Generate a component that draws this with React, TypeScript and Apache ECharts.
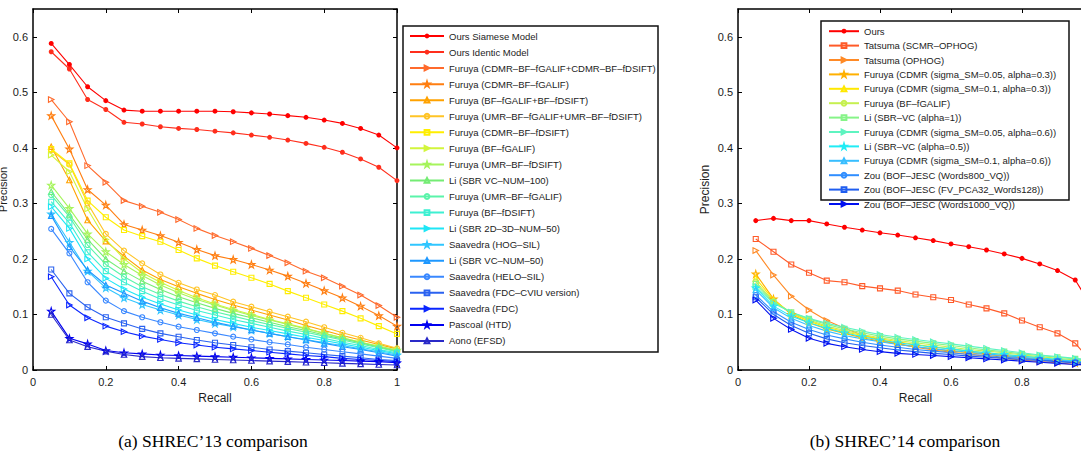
import React, { useEffect, useRef } from "react";
import * as echarts from "echarts";

// Recall sample points shared by every precision–recall curve
const recall = [0.05, 0.1, 0.15, 0.2, 0.25, 0.3, 0.35, 0.4, 0.45, 0.5, 0.55, 0.6, 0.65, 0.7, 0.75, 0.8, 0.85, 0.9, 0.95, 1.0];

const xTicks = { min: 0, max: 1, interval: 0.2 };
const yTicks = { min: 0, max: 0.65, interval: 0.1 };

// ---- SHREC'13 precision values ----
const s13OursSiamese = [0.588, 0.550, 0.510, 0.485, 0.468, 0.466, 0.466, 0.466, 0.466, 0.466, 0.465, 0.463, 0.461, 0.458, 0.455, 0.450, 0.444, 0.435, 0.423, 0.400];
const s13OursIdentic = [0.573, 0.542, 0.487, 0.469, 0.446, 0.443, 0.438, 0.435, 0.433, 0.430, 0.427, 0.423, 0.419, 0.414, 0.408, 0.401, 0.392, 0.380, 0.365, 0.341];
const s13FuruyaCdmrBoth = [0.487, 0.447, 0.368, 0.338, 0.305, 0.295, 0.284, 0.271, 0.255, 0.242, 0.231, 0.219, 0.206, 0.193, 0.178, 0.166, 0.151, 0.135, 0.116, 0.095];
const s13FuruyaCdmrGalif = [0.458, 0.398, 0.325, 0.297, 0.262, 0.252, 0.242, 0.230, 0.217, 0.206, 0.199, 0.190, 0.180, 0.169, 0.156, 0.143, 0.130, 0.115, 0.098, 0.079];
const s13FuruyaBfBoth = [0.402, 0.342, 0.270, 0.232, 0.205, 0.180, 0.163, 0.150, 0.138, 0.127, 0.117, 0.108, 0.099, 0.090, 0.080, 0.071, 0.062, 0.054, 0.046, 0.038];
const s13FuruyaUmrBoth = [0.396, 0.370, 0.300, 0.245, 0.215, 0.192, 0.172, 0.157, 0.145, 0.135, 0.123, 0.114, 0.105, 0.096, 0.087, 0.077, 0.067, 0.058, 0.048, 0.039];
const s13FuruyaCdmrDsift = [0.398, 0.372, 0.305, 0.275, 0.252, 0.241, 0.231, 0.216, 0.201, 0.188, 0.177, 0.166, 0.155, 0.142, 0.130, 0.118, 0.106, 0.093, 0.079, 0.065];
const s13FuruyaBfGalif = [0.387, 0.357, 0.290, 0.235, 0.200, 0.175, 0.158, 0.143, 0.130, 0.119, 0.109, 0.100, 0.091, 0.083, 0.075, 0.066, 0.058, 0.050, 0.042, 0.035];
const s13FuruyaUmrDsift = [0.333, 0.291, 0.245, 0.213, 0.190, 0.170, 0.153, 0.139, 0.127, 0.117, 0.107, 0.098, 0.090, 0.082, 0.074, 0.066, 0.058, 0.050, 0.043, 0.036];
const s13LiVc100 = [0.321, 0.280, 0.235, 0.200, 0.178, 0.160, 0.145, 0.132, 0.121, 0.111, 0.102, 0.094, 0.086, 0.078, 0.071, 0.063, 0.056, 0.049, 0.041, 0.034];
const s13FuruyaUmrGalif = [0.315, 0.276, 0.225, 0.190, 0.168, 0.150, 0.136, 0.124, 0.114, 0.105, 0.097, 0.089, 0.082, 0.075, 0.068, 0.061, 0.054, 0.047, 0.040, 0.033];
const s13FuruyaBfDsift = [0.303, 0.265, 0.212, 0.178, 0.158, 0.142, 0.128, 0.117, 0.107, 0.099, 0.091, 0.084, 0.077, 0.070, 0.064, 0.057, 0.050, 0.044, 0.037, 0.031];
const s13Li2d3d50 = [0.294, 0.255, 0.200, 0.165, 0.146, 0.131, 0.119, 0.108, 0.099, 0.091, 0.084, 0.077, 0.071, 0.065, 0.059, 0.053, 0.047, 0.041, 0.035, 0.029];
const s13SaavedraHog = [0.281, 0.230, 0.178, 0.148, 0.130, 0.118, 0.108, 0.099, 0.091, 0.084, 0.078, 0.072, 0.066, 0.060, 0.055, 0.049, 0.044, 0.038, 0.033, 0.027];
const s13LiVc50 = [0.278, 0.222, 0.180, 0.153, 0.138, 0.124, 0.112, 0.102, 0.094, 0.086, 0.079, 0.072, 0.066, 0.060, 0.054, 0.048, 0.042, 0.037, 0.031, 0.025];
const s13SaavedraHelo = [0.254, 0.210, 0.158, 0.125, 0.106, 0.095, 0.086, 0.078, 0.072, 0.066, 0.060, 0.055, 0.050, 0.046, 0.041, 0.037, 0.033, 0.029, 0.025, 0.021];
const s13SaavedraFdcCviu = [0.181, 0.138, 0.113, 0.095, 0.084, 0.074, 0.066, 0.060, 0.054, 0.049, 0.045, 0.041, 0.037, 0.034, 0.031, 0.028, 0.025, 0.022, 0.019, 0.017];
const s13SaavedraFdc = [0.168, 0.117, 0.094, 0.079, 0.069, 0.061, 0.055, 0.049, 0.045, 0.041, 0.038, 0.035, 0.032, 0.029, 0.026, 0.024, 0.021, 0.019, 0.017, 0.015];
const s13PascoalHtd = [0.106, 0.057, 0.047, 0.035, 0.031, 0.029, 0.027, 0.026, 0.025, 0.024, 0.023, 0.022, 0.021, 0.020, 0.019, 0.018, 0.017, 0.016, 0.015, 0.013];
const s13AonoEfsd = [0.100, 0.054, 0.042, 0.034, 0.028, 0.024, 0.022, 0.021, 0.020, 0.019, 0.018, 0.017, 0.016, 0.015, 0.014, 0.013, 0.012, 0.011, 0.010, 0.009];

const shrec13Names = [
  "Ours Siamese Model",
  "Ours Identic Model",
  "Furuya (CDMR–BF–fGALIF+CDMR–BF–fDSIFT)",
  "Furuya (CDMR–BF–fGALIF)",
  "Furuya (BF–fGALIF+BF–fDSIFT)",
  "Furuya (UMR–BF–fGALIF+UMR–BF–fDSIFT)",
  "Furuya (CDMR–BF–fDSIFT)",
  "Furuya (BF–fGALIF)",
  "Furuya (UMR–BF–fDSIFT)",
  "Li (SBR VC–NUM–100)",
  "Furuya (UMR–BF–fGALIF)",
  "Furuya (BF–fDSIFT)",
  "Li (SBR 2D–3D–NUM–50)",
  "Saavedra (HOG–SIL)",
  "Li (SBR VC–NUM–50)",
  "Saavedra (HELO–SIL)",
  "Saavedra (FDC–CVIU version)",
  "Saavedra (FDC)",
  "Pascoal (HTD)",
  "Aono (EFSD)",
];
const shrec13Values = [
  s13OursSiamese, s13OursIdentic, s13FuruyaCdmrBoth, s13FuruyaCdmrGalif, s13FuruyaBfBoth,
  s13FuruyaUmrBoth, s13FuruyaCdmrDsift, s13FuruyaBfGalif, s13FuruyaUmrDsift, s13LiVc100,
  s13FuruyaUmrGalif, s13FuruyaBfDsift, s13Li2d3d50, s13SaavedraHog, s13LiVc50,
  s13SaavedraHelo, s13SaavedraFdcCviu, s13SaavedraFdc, s13PascoalHtd, s13AonoEfsd,
];
const shrec13Markers = ["dot", "dot", "right", "star", "up", "circle", "square", "right", "star", "up", "circle", "square", "right", "star", "up", "circle", "square", "right", "star", "up"];
const shrec13Colors = ["#ff0000", "#ff2e1c", "#ff6a2c", "#ff7e10", "#ffa200", "#ffc426", "#ffee00", "#d2f53c", "#a6f45c", "#74ec74", "#5af4aa", "#3ef0d2", "#1ee6f6", "#30c6ff", "#1e98ff", "#3a88ff", "#2a62f0", "#0a26ff", "#0000f0", "#2a2ac8"];

// ---- SHREC'14 precision values ----
const s14Ours = [0.269, 0.273, 0.269, 0.269, 0.263, 0.257, 0.252, 0.247, 0.243, 0.238, 0.233, 0.227, 0.222, 0.216, 0.209, 0.201, 0.191, 0.179, 0.162, 0.110];
const s14TatsumaScmr = [0.236, 0.213, 0.190, 0.175, 0.161, 0.158, 0.151, 0.147, 0.143, 0.136, 0.131, 0.126, 0.118, 0.111, 0.102, 0.089, 0.077, 0.066, 0.048, 0.012];
const s14TatsumaOphog = [0.215, 0.171, 0.133, 0.108, 0.089, 0.075, 0.063, 0.054, 0.047, 0.041, 0.036, 0.032, 0.028, 0.025, 0.021, 0.018, 0.015, 0.013, 0.010, 0.008];
const s14FuruyaS005A03 = [0.173, 0.128, 0.100, 0.085, 0.074, 0.066, 0.058, 0.052, 0.047, 0.042, 0.038, 0.034, 0.031, 0.028, 0.025, 0.022, 0.019, 0.016, 0.013, 0.011];
const s14FuruyaS01A03 = [0.165, 0.126, 0.102, 0.088, 0.077, 0.069, 0.062, 0.056, 0.051, 0.046, 0.042, 0.038, 0.034, 0.031, 0.028, 0.025, 0.022, 0.019, 0.016, 0.013];
const s14FuruyaBfGalif = [0.159, 0.124, 0.103, 0.090, 0.079, 0.071, 0.064, 0.058, 0.053, 0.049, 0.045, 0.041, 0.037, 0.034, 0.031, 0.027, 0.024, 0.021, 0.018, 0.015];
const s14LiVcA1 = [0.155, 0.122, 0.104, 0.092, 0.082, 0.074, 0.067, 0.061, 0.056, 0.052, 0.048, 0.044, 0.040, 0.036, 0.033, 0.029, 0.026, 0.023, 0.020, 0.017];
const s14FuruyaS005A06 = [0.150, 0.120, 0.104, 0.093, 0.084, 0.077, 0.070, 0.064, 0.059, 0.055, 0.051, 0.047, 0.043, 0.039, 0.035, 0.031, 0.027, 0.024, 0.021, 0.018];
const s14LiVcA05 = [0.148, 0.115, 0.097, 0.085, 0.075, 0.067, 0.060, 0.054, 0.049, 0.045, 0.041, 0.038, 0.034, 0.031, 0.028, 0.025, 0.022, 0.019, 0.016, 0.014];
const s14FuruyaS01A06 = [0.144, 0.112, 0.093, 0.080, 0.070, 0.062, 0.056, 0.051, 0.046, 0.042, 0.038, 0.035, 0.032, 0.029, 0.026, 0.023, 0.020, 0.018, 0.015, 0.013];
const s14ZouW800 = [0.135, 0.105, 0.086, 0.073, 0.063, 0.056, 0.050, 0.045, 0.041, 0.037, 0.034, 0.031, 0.028, 0.026, 0.023, 0.021, 0.018, 0.016, 0.014, 0.012];
const s14ZouFv = [0.131, 0.100, 0.080, 0.066, 0.056, 0.049, 0.044, 0.040, 0.036, 0.033, 0.030, 0.028, 0.025, 0.023, 0.021, 0.019, 0.017, 0.015, 0.013, 0.011];
const s14ZouW1000 = [0.126, 0.093, 0.073, 0.057, 0.048, 0.042, 0.037, 0.033, 0.030, 0.028, 0.026, 0.024, 0.022, 0.020, 0.018, 0.016, 0.014, 0.012, 0.010, 0.009];

const shrec14Names = [
  "Ours",
  "Tatsuma (SCMR–OPHOG)",
  "Tatsuma (OPHOG)",
  "Furuya (CDMR (sigma_SM=0.05, alpha=0.3))",
  "Furuya (CDMR (sigma_SM=0.1, alpha=0.3))",
  "Furuya (BF–fGALIF)",
  "Li (SBR–VC (alpha=1))",
  "Furuya (CDMR (sigma_SM=0.05, alpha=0.6))",
  "Li (SBR–VC (alpha=0.5))",
  "Furuya (CDMR (sigma_SM=0.1, alpha=0.6))",
  "Zou (BOF–JESC (Words800_VQ))",
  "Zou (BOF–JESC (FV_PCA32_Words128))",
  "Zou (BOF–JESC (Words1000_VQ))",
];
const shrec14Values = [
  s14Ours, s14TatsumaScmr, s14TatsumaOphog, s14FuruyaS005A03, s14FuruyaS01A03,
  s14FuruyaBfGalif, s14LiVcA1, s14FuruyaS005A06, s14LiVcA05, s14FuruyaS01A06,
  s14ZouW800, s14ZouFv, s14ZouW1000,
];
const shrec14Markers = ["dot", "square", "right", "star", "up", "circle", "square", "right", "star", "up", "circle", "square", "right"];
const shrec14Colors = ["#ff0000", "#ff5a28", "#ff8a26", "#ffb000", "#ffe800", "#c6f050", "#86f488", "#5ef4c0", "#20ecf5", "#38beff", "#308eff", "#205ef0", "#0010f0"];

const STAR = "path://M50,0 L61,35 L98,35 L68,57 L79,91 L50,70 L21,91 L32,57 L2,35 L39,35 Z";
const RIGHT_TRI = "path://M0,0 L10,5 L0,10 Z";

const MARKERS: Record<string, { symbol: string; size: number }> = {
  dot: { symbol: "circle", size: 5 },
  right: { symbol: RIGHT_TRI, size: 5.5 },
  star: { symbol: STAR, size: 7 },
  up: { symbol: "triangle", size: 5.5 },
  circle: { symbol: "circle", size: 5 },
  square: { symbol: "rect", size: 5 },
};

const SANS = "'Liberation Sans', Arial, Helvetica, sans-serif";

function buildSeries(prefix: string, names: string[], values: number[][], markers: string[], colors: string[], axis: number) {
  return names.map((name, k) => {
    const m = MARKERS[markers[k]];
    const color = colors[k];
    const filled = markers[k] === "dot";
    return {
      type: "line",
      name: prefix + name,
      xAxisIndex: axis,
      yAxisIndex: axis,
      data: recall.map((r, i) => [r, values[k][i]]),
      symbol: m.symbol,
      symbolSize: m.size,
      showAllSymbol: true,
      clip: false,
      silent: true,
      lineStyle: { color, width: 1.1 },
      itemStyle: filled
        ? { color, borderColor: color, borderWidth: 0 }
        : { color: "rgba(255,255,255,0)", borderColor: color, borderWidth: 1.1 },
      emphasis: { disabled: true },
    };
  });
}

function axisPair(gridIndex: number, kind: "x" | "y", withLabels: boolean, position: string, extra: any = {}, showMax = kind === "x") {
  const ticks = kind === "x" ? xTicks : yTicks;
  return {
    type: "value",
    gridIndex,
    position,
    min: ticks.min,
    max: ticks.max,
    interval: ticks.interval,
    splitLine: { show: false },
    axisLine: { show: true, onZero: false, lineStyle: { color: "#000", width: 1.5 } },
    axisTick: { show: true, inside: true, length: 4, lineStyle: { color: "#000", width: 1 } },
    axisLabel: {
      show: withLabels,
      fontSize: 11,
      fontFamily: SANS,
      color: "#1c1c1c",
      margin: kind === "x" ? 6 : 5,
      showMaxLabel: showMax,
    },
    ...extra,
  };
}

function legendFor(prefix: string, names: string[], left: number, top: number, itemWidth: number, rowHeight: number, gap: number) {
  return {
    orient: "vertical",
    left,
    top,
    padding: 0,
    itemWidth,
    itemHeight: 6,
    itemGap: gap,
    selectedMode: false,
    data: names.map((n) => prefix + n),
    formatter: (n: string) => n.slice(prefix.length),
    textStyle: { fontSize: 9.5, fontFamily: SANS, color: "#1c1c1c", lineHeight: rowHeight },
  };
}

export default function App() {
  const ref = useRef<HTMLDivElement>(null);

  useEffect(() => {
    if (!ref.current) return;
    const chart = echarts.init(ref.current, null, { renderer: "svg" });

    const nameStyle = { fontSize: 12, fontFamily: SANS, color: "#1c1c1c", lineHeight: 12 };
    // the left panel's axis title sits against the page edge, so it is a touch smaller
    const edgeNameStyle = { fontSize: 11, fontFamily: SANS, color: "#1c1c1c", lineHeight: 11 };

    const option = {
      animation: false,
      backgroundColor: "#fff",
      grid: [
        { left: 33, top: 9, width: 364, height: 361, outerBoundsMode: "none", containLabel: false },
        { left: 738, top: 9, width: 355, height: 361, outerBoundsMode: "none", containLabel: false },
      ],
      xAxis: [
        axisPair(0, "x", true, "bottom", { name: "Recall", nameLocation: "middle", nameGap: 19, nameTextStyle: nameStyle }),
        axisPair(0, "x", false, "top"),
        // the right panel runs past the page edge, so its last label is not drawn
        axisPair(1, "x", true, "bottom", { name: "Recall", nameLocation: "middle", nameGap: 19, nameTextStyle: nameStyle }, false),
        axisPair(1, "x", false, "top"),
      ],
      yAxis: [
        axisPair(0, "y", true, "left", { name: "Precision", nameLocation: "middle", nameGap: 17, nameRotate: 90, nameTextStyle: edgeNameStyle }),
        axisPair(0, "y", false, "right"),
        axisPair(1, "y", true, "left", { name: "Precision", nameLocation: "middle", nameGap: 27, nameRotate: 90, nameTextStyle: nameStyle }),
        axisPair(1, "y", false, "right"),
      ],
      legend: [
        legendFor("a:", shrec13Names, 409, 31, 34, 10, 6.05),
        legendFor("b:", shrec14Names, 828, 26.2, 30, 9, 4.4),
      ],
      graphic: [
        { type: "rect", z: 3, shape: { x: 403, y: 26, width: 255, height: 326 }, style: { fill: "#fff", stroke: "#111", lineWidth: 1.5 } },
        { type: "rect", z: 3, shape: { x: 821, y: 21, width: 248, height: 179 }, style: { fill: "#fff", stroke: "#111", lineWidth: 1.5 } },
        {
          type: "text", x: 213, y: 441,
          style: { text: "(a) SHREC’13 comparison", fontSize: 17.5, fontFamily: "'Liberation Serif', 'Times New Roman', serif", fill: "#000", align: "center", verticalAlign: "middle", textAlign: "center", textVerticalAlign: "middle" },
        },
        {
          type: "text", x: 905, y: 441,
          style: { text: "(b) SHREC’14 comparison", fontSize: 17.5, fontFamily: "'Liberation Serif', 'Times New Roman', serif", fill: "#000", align: "center", verticalAlign: "middle", textAlign: "center", textVerticalAlign: "middle" },
        },
      ],
      series: [
        ...buildSeries("a:", shrec13Names, shrec13Values, shrec13Markers, shrec13Colors, 0),
        ...buildSeries("b:", shrec14Names, shrec14Values, shrec14Markers, shrec14Colors, 2),
      ],
    };

    chart.setOption(option as any);
    return () => chart.dispose();
  }, []);

  return (
    <div
      ref={ref}
      style={{ position: "absolute", left: 0, top: 0, width: 1081, height: 464, background: "#fff" }}
    />
  );
}
